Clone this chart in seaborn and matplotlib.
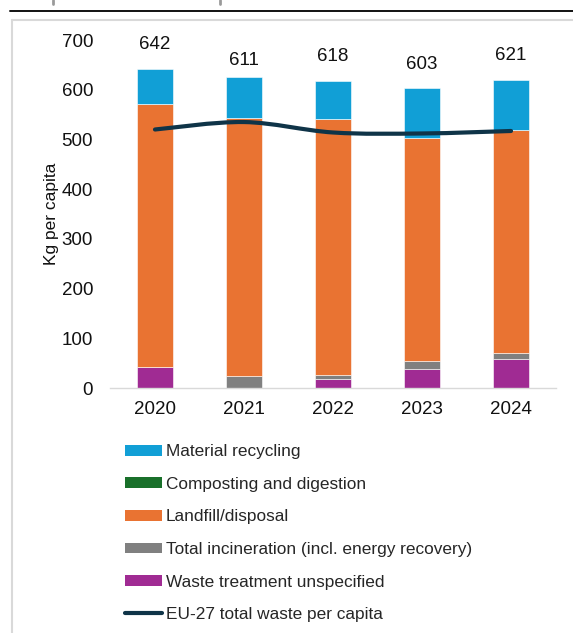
import numpy as np
import pandas as pd
import matplotlib
matplotlib.use("Agg")
import matplotlib.pyplot as plt
from matplotlib.path import Path
from matplotlib.patches import PathPatch, Patch
from matplotlib.lines import Line2D
import seaborn as sns

# ---- data (kg per capita) ----
years = ["2020", "2021", "2022", "2023", "2024"]
material_recycling = [70, 82, 77, 101, 101]
composting_digestion = [0, 0, 0, 0, 0]
landfill_disposal = [530, 519, 515, 448, 449]
total_incineration = [0, 25, 7, 16, 12]
treatment_unspecified = [42, 0, 19, 38, 58]
total_labels = [642, 611, 618, 603, 621]
eu27_per_capita = [520, 535, 514, 512, 517]

series_names = [
    "Material recycling",
    "Composting and digestion",
    "Landfill/disposal",
    "Total incineration (incl. energy recovery)",
    "Waste treatment unspecified",
]
line_name = "EU-27 total waste per capita"
colors = {
    "Material recycling": "#119FD6",
    "Composting and digestion": "#19702A",
    "Landfill/disposal": "#E97332",
    "Total incineration (incl. energy recovery)": "#808080",
    "Waste treatment unspecified": "#A02B93",
}
line_color = "#0F3448"

df = pd.DataFrame({
    "year": years,
    "Material recycling": material_recycling,
    "Composting and digestion": composting_digestion,
    "Landfill/disposal": landfill_disposal,
    "Total incineration (incl. energy recovery)": total_incineration,
    "Waste treatment unspecified": treatment_unspecified,
})

sns.set_theme(style="white")
plt.rcParams["font.family"] = ["Liberation Sans", "DejaVu Sans"]

fig = plt.figure(figsize=(5.73, 6.33), dpi=100)
ax = fig.add_axes([0.1928, 0.3870, 0.7767, 0.5498])

# stacked bars, bottom segment first
stack_order = [
    "Waste treatment unspecified",
    "Total incineration (incl. energy recovery)",
    "Landfill/disposal",
    "Composting and digestion",
    "Material recycling",
]
bottom = np.zeros(len(years))
for name in stack_order:
    vals = df[name].to_numpy(dtype=float)
    sns.barplot(x=df["year"], y=vals, bottom=bottom, color=colors[name],
                width=0.4, edgecolor="white", linewidth=0.4, saturation=1,
                ax=ax, zorder=2)
    bottom = bottom + vals

# total labels above the bars
for i, v in enumerate(total_labels):
    ax.text(i, v + 48, f"{v}", ha="center", va="center", fontsize=13.5,
            color="#111111")

# smoothed EU-27 line (Catmull-Rom style cubic Bezier through the points)
xs = np.arange(len(years), dtype=float)
ys = np.array(eu27_per_capita, dtype=float)
verts = [(xs[0], ys[0])]
codes = [Path.MOVETO]
n = len(xs)
for i in range(n - 1):
    p0 = (xs[max(i - 1, 0)], ys[max(i - 1, 0)])
    p1 = (xs[i], ys[i])
    p2 = (xs[i + 1], ys[i + 1])
    p3 = (xs[min(i + 2, n - 1)], ys[min(i + 2, n - 1)])
    t = 1.0 / 6.0
    c1 = (p1[0] + (p2[0] - p0[0]) * t, p1[1] + (p2[1] - p0[1]) * t)
    c2 = (p2[0] - (p3[0] - p1[0]) * t, p2[1] - (p3[1] - p1[1]) * t)
    verts += [c1, c2, p2]
    codes += [Path.CURVE4] * 3
ax.add_patch(PathPatch(Path(verts, codes), facecolor="none",
                       edgecolor=line_color, linewidth=3.0,
                       capstyle="round", joinstyle="round", zorder=3))

ax.set_xlim(-0.5, len(years) - 0.5)
ax.set_ylim(0, 700)
ax.set_yticks(range(0, 701, 100))
ax.set_xlabel("")
ax.set_ylabel("Kg per capita", fontsize=12.5, color="#111111", labelpad=2)
ax.tick_params(axis="both", length=0, labelsize=13.5, colors="#111111")
ax.tick_params(axis="y", pad=12.5)
ax.tick_params(axis="x", pad=9)
for side in ["top", "right", "left"]:
    ax.spines[side].set_visible(False)
ax.spines["bottom"].set_color("#D9D9D9")
ax.spines["bottom"].set_linewidth(1.0)
ax.grid(False)

# legend below the plot
handles = [Patch(facecolor=colors[s], edgecolor="none") for s in series_names]
handles.append(Line2D([0], [0], color=line_color, linewidth=3.0,
                      solid_capstyle="round"))
labels = series_names + [line_name]
fig.legend(handles, labels, loc="upper left", bbox_to_anchor=(0.219, 0.298),
           frameon=False, fontsize=12.4, handlelength=2.1, handleheight=0.6,
           handletextpad=0.25, labelspacing=1.02, borderpad=0,
           borderaxespad=0)

# frame and header rules around the chart
fig.add_artist(Line2D([12 / 573, 12 / 573], [0, 1 - 20 / 633],
                      transform=fig.transFigure, color="#D9D9D9", lw=1.5))
fig.add_artist(Line2D([12 / 573, 1], [1 - 20 / 633, 1 - 20 / 633],
                      transform=fig.transFigure, color="#D9D9D9", lw=1.5))
fig.add_artist(Line2D([10 / 573, 1], [1 - 11 / 633, 1 - 11 / 633],
                      transform=fig.transFigure, color="#111111", lw=1.4))
for xp in (53, 220):
    fig.add_artist(Line2D([xp / 573, xp / 573], [1 - 4 / 633, 1],
                          transform=fig.transFigure, color="#9A9A9A", lw=2.0))

fig.savefig("out.png", dpi=100)
